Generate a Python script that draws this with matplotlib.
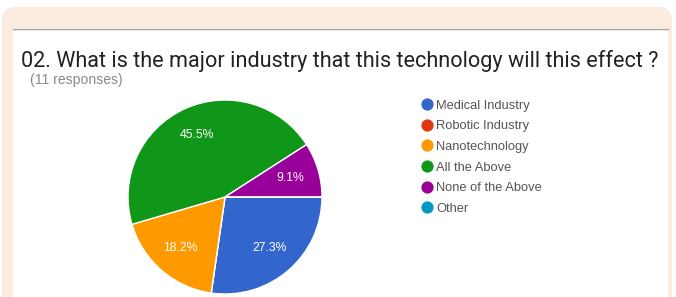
import matplotlib.pyplot as plt
from matplotlib.patches import FancyBboxPatch, Rectangle
from matplotlib.lines import Line2D

labels = ["Medical Industry", "Robotic Industry", "Nanotechnology",
          "All the Above", "None of the Above", "Other"]
counts = [3, 0, 2, 5, 1, 0]
colors = ["#3366cc", "#dc3912", "#ff9900", "#109618", "#990099", "#0099c6"]
title = "02. What is the major industry that this technology will this effect ?"
subtitle = "(11 responses)"

W, H = 676, 297
fig = plt.figure(figsize=(W / 100, H / 100), dpi=100)
fig.patch.set_facecolor("white")

def fx(px):
    return px / W

def fy(py):
    return 1 - py / H

# peach card frame and inner white panel (behind the axes)
frame = FancyBboxPatch((fx(2), fy(310)), fx(670), (310 - 7) / H,
                       boxstyle="round,pad=0,rounding_size=0.02",
                       transform=fig.transFigure, facecolor="#fcebdf",
                       edgecolor="none", mutation_aspect=W / H, zorder=-3)
fig.patches.append(frame)
inner = Rectangle((fx(13), 0), fx(655), (297 - 28) / H,
                  transform=fig.transFigure, facecolor="white",
                  edgecolor="none", zorder=-2)
fig.patches.append(inner)
fig.add_artist(Line2D([fx(13), fx(668)], [fy(28.5), fy(28.5)],
                      transform=fig.transFigure, color="#a9a29c", lw=1,
                      zorder=-1))

fig.text(fx(21), fy(67), title, fontsize=15.6, family="Roboto",
         color="#222222", va="baseline", ha="left")
fig.text(fx(30), fy(84), subtitle, fontsize=10.1, family="Liberation Sans",
         color="#8a8a8a", va="baseline", ha="left")

cx, cy, r = 225, 197, 97
ax = fig.add_axes([fx(cx - r), fy(cy + r), 2 * r / W, 2 * r / H])
ax.set_zorder(1)
wedges, texts, autotexts = ax.pie(
    counts, colors=colors, startangle=0, counterclock=False,
    autopct=lambda p: f"{p:.1f}%" if p > 0 else "", pctdistance=0.7,
    wedgeprops=dict(edgecolor="white", linewidth=1),
    textprops=dict(color="white", fontsize=8.8, family="Liberation Sans"))
ax.set_xlim(-1, 1)
ax.set_ylim(-1, 1)
ax.set_aspect("equal")
ax.axis("off")

handles = [Line2D([], [], marker="o", linestyle="none", markersize=7.8,
                  markerfacecolor=c, markeredgecolor=c) for c in colors]
fig.legend(handles, labels, loc="upper left",
           bbox_to_anchor=(fx(413), fy(93)), frameon=False,
           prop=dict(family="Liberation Sans", size=9.3),
           labelspacing=0.67, handletextpad=0.2,
           handlelength=1.1, borderpad=0, labelcolor="#555555")

fig.savefig("out.png", dpi=100)
